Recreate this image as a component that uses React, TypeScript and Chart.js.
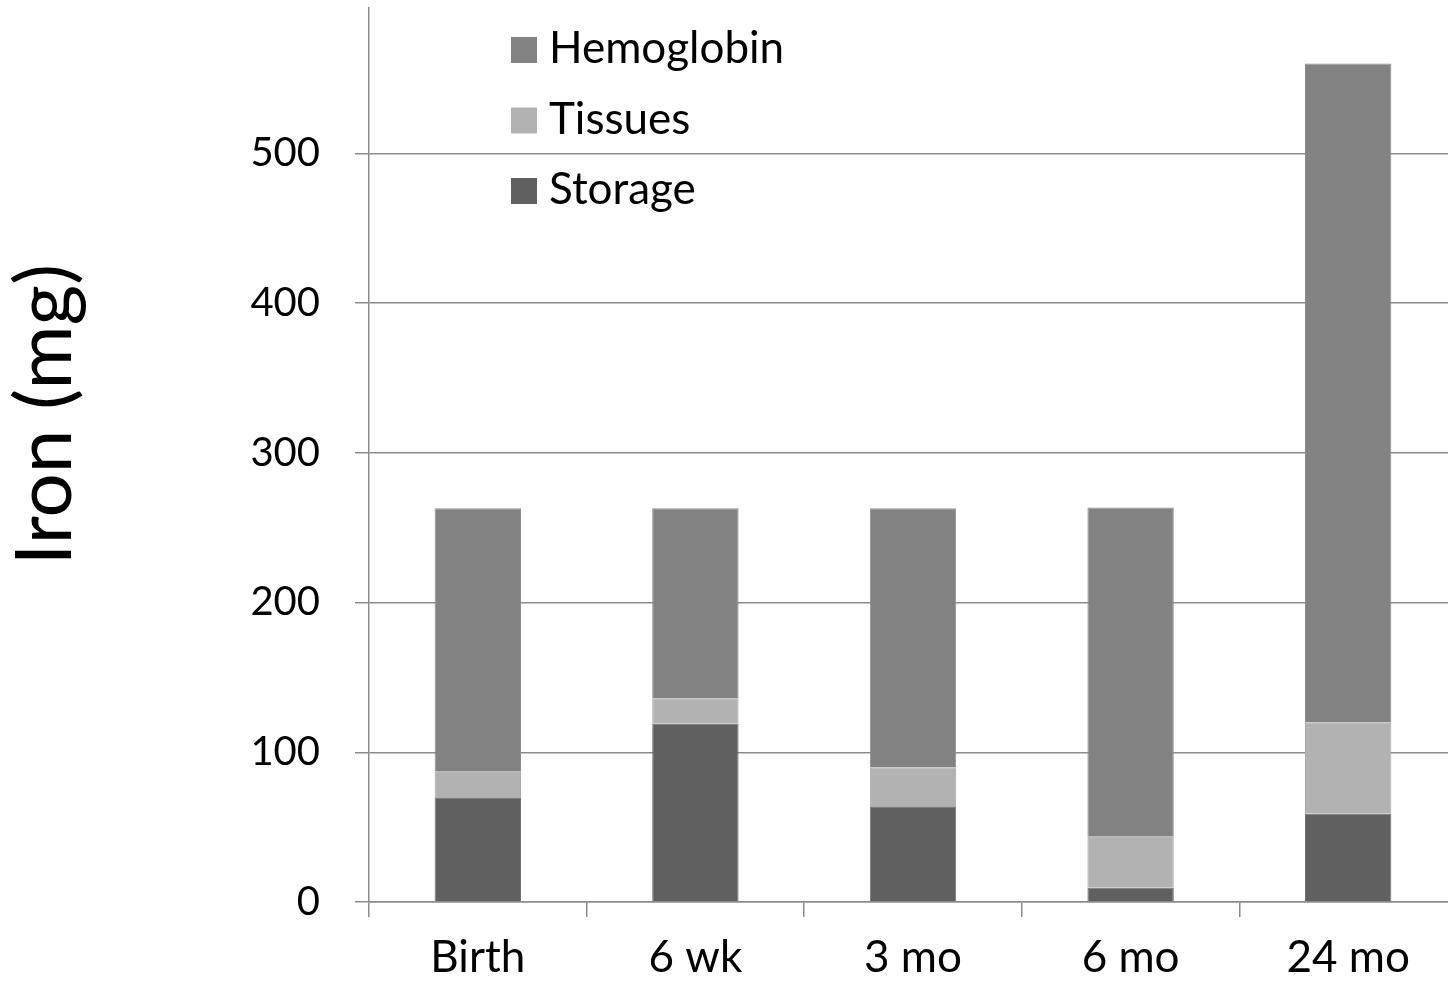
import React, { useEffect, useRef } from 'react';
import { Chart, registerables } from 'chart.js';

Chart.register(...registerables);

const categories = ['Birth', '6 wk', '3 mo', '6 mo', '24 mo'];
const storage = [70, 119, 64, 9.5, 59];
const tissues = [17, 17, 26, 34, 61];
const hemoglobin = [176, 127, 173, 220, 440];
const yTicks = [0, 100, 200, 300, 400, 500];
const yMax = 597;
const seriesLabels = ['Storage', 'Tissues', 'Hemoglobin'];
const seriesColors = ['#606060', '#b2b2b2', '#828282'];
const seriesBorders = ['#727272', '#a9a9a9', '#8c8c8c'];
const yTitle = 'Iron (mg)';

const FONT = 'Lato, "Open Sans", sans-serif';
const GRID = '#8c8c8c';

const legendPlugin = {
  id: 'customLegendAndTitle',
  afterDraw(chart: any) {
    const { ctx, chartArea } = chart;
    const items = [...chart.data.datasets].reverse();
    ctx.save();
    ctx.font = `44px ${FONT}`;
    ctx.textBaseline = 'alphabetic';
    ctx.textAlign = 'left';
    items.forEach((ds: any, i: number) => {
      const baseline = chartArea.top + 55 + i * 70.5;
      const x = chartArea.left + 142;
      ctx.fillStyle = ds.backgroundColor;
      ctx.fillRect(x, baseline - 26, 26, 26);
      ctx.fillStyle = '#000';
      ctx.fillText(ds.label, x + 38, baseline);
    });
    ctx.restore();

    ctx.save();
    ctx.translate(71, chartArea.top + (chartArea.bottom - chartArea.top) * 0.455);
    ctx.rotate(-Math.PI / 2);
    ctx.textAlign = 'center';
    ctx.textBaseline = 'alphabetic';
    ctx.font = `78px ${FONT}`;
    ctx.fillStyle = '#000';
    ctx.fillText(yTitle, 0, 0);
    ctx.restore();
  },
};

export default function App() {
  const ref = useRef<HTMLCanvasElement | null>(null);

  useEffect(() => {
    if (!ref.current) return;
    const seriesData = [storage, tissues, hemoglobin];
    const chart = new Chart(ref.current, {
      type: 'bar',
      data: {
        labels: categories,
        datasets: seriesLabels.map((label, i) => ({
          label,
          data: seriesData[i],
          backgroundColor: seriesColors[i],
          borderColor: seriesBorders[i],
          borderWidth: 1,
          barPercentage: 0.397,
          categoryPercentage: 1,
        })),
      },
      options: {
        animation: false,
        responsive: true,
        maintainAspectRatio: false,
        layout: { padding: { top: 8, left: 0, right: 0, bottom: 0 } },
        plugins: {
          legend: { display: false },
          tooltip: { enabled: false },
        },
        scales: {
          x: {
            stacked: true,
            grid: {
              display: true,
              drawOnChartArea: false,
              drawTicks: true,
              tickLength: 15,
              offset: true,
              color: GRID,
              lineWidth: 1.5,
            },
            border: { color: GRID, width: 1.5 },
            ticks: {
              font: { family: FONT, size: 44 },
              color: '#000',
              padding: 14,
            },
            afterFit: (s: any) => {
              s.height = 83;
              s.paddingLeft = 0;
              s.paddingRight = 0;
            },
          },
          y: {
            stacked: true,
            min: 0,
            max: yMax,
            grid: {
              color: GRID,
              lineWidth: 1.5,
              tickLength: 14,
            },
            border: { color: GRID, width: 1.5 },
            ticks: {
              font: { family: FONT, size: 40 },
              color: '#000',
              padding: 35,
            },
            afterBuildTicks: (s: any) => {
              s.ticks = yTicks.map((v) => ({ value: v }));
            },
            afterFit: (s: any) => {
              s.width = 369;
              s.paddingTop = 0;
              s.paddingBottom = 0;
            },
          },
        },
      },
      plugins: [legendPlugin],
    });
    return () => chart.destroy();
  }, []);

  return (
    <div style={{ position: 'fixed', left: 0, top: 0, width: 1448, height: 985, overflow: 'hidden', background: '#fff' }}>
      <div style={{ position: 'relative', width: 1457, height: 985 }}>
        <canvas ref={ref} />
      </div>
    </div>
  );
}
